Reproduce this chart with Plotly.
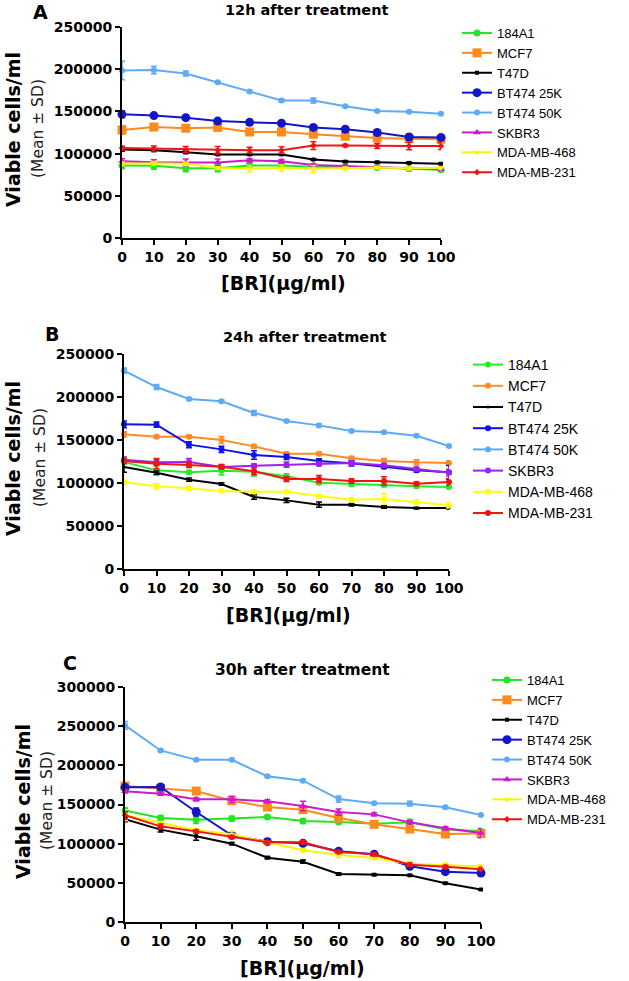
import plotly.graph_objects as go

W, H = 629, 981

conc = [0, 10, 20, 30, 40, 50, 60, 70, 80, 90, 100]
series_names = ["184A1", "MCF7", "T47D", "BT474 25K", "BT474 50K", "SKBR3", "MDA-MB-468", "MDA-MB-231"]
panel_titles = ["12h after treatment", "24h after treatment", "30h after treatment"]
panel_letters = ["A", "B", "C"]

# ---- Panel A: 12h ----
a_184A1 = [86000, 85500, 82500, 82500, 86000, 86000, 84500, 84000, 83500, 82000, 81000]
a_MCF7 = [128000, 131500, 130000, 131000, 125600, 125600, 123000, 120500, 118500, 117500, 117000]
a_T47D = [105000, 104000, 101500, 99000, 99000, 99000, 93000, 90500, 89700, 89000, 88000]
a_BT25 = [146500, 145000, 142600, 138500, 137000, 136000, 131000, 128800, 125000, 119700, 119000]
a_BT50 = [198500, 199000, 195000, 184500, 173500, 163000, 163000, 156000, 150500, 149700, 147300]
a_SKBR3 = [91000, 89700, 89500, 89500, 92000, 91000, 86500, 85300, 84500, 82500, 81500]
a_MB468 = [88000, 88500, 88000, 83000, 82000, 83000, 82000, 82500, 83500, 82500, 83000]
a_MB231 = [106600, 106000, 104800, 104000, 104000, 104000, 109500, 109500, 109000, 109000, 109000]

a_184A1_sd = [4000, 4000, 4000, 4000, 3000, 2500, 2000, 1500, 1500, 1500, 1500]
a_MCF7_sd = [5000, 2500, 2000, 3000, 4000, 4000, 2500, 3000, 2500, 3000, 2500]
a_T47D_sd = [2000, 1500, 1500, 1000, 1000, 1000, 1000, 1000, 1000, 1000, 1000]
a_BT25_sd = [4000, 1500, 1500, 2000, 3000, 2000, 2000, 3000, 2000, 3000, 2000]
a_BT50_sd = [11000, 4500, 3000, 1000, 1000, 2000, 3000, 1000, 1000, 1000, 1000]
a_SKBR3_sd = [3000, 3000, 4000, 4000, 2000, 2000, 1500, 1000, 1000, 1000, 1000]
a_MB468_sd = [2000, 2000, 2000, 1500, 3500, 3500, 4000, 1500, 1500, 1500, 1500]
a_MB231_sd = [2000, 3000, 3500, 4500, 3500, 4000, 4500, 1500, 3000, 4500, 4000]

# ---- Panel B: 24h ----
b_184A1 = [124400, 114700, 112400, 114300, 113200, 107800, 100400, 98800, 97700, 96100, 95300]
b_MCF7 = [156600, 153900, 153900, 150000, 142600, 134100, 134100, 128700, 125600, 124000, 123300]
b_T47D = [118600, 112000, 103900, 98800, 83700, 79800, 74800, 74800, 72100, 70900, 70900]
b_BT25 = [168200, 167800, 144600, 139100, 132600, 130200, 125600, 122900, 119000, 114700, 112400]
b_BT50 = [230600, 211600, 197700, 195000, 181400, 172000, 167000, 160500, 159000, 155000, 143000]
b_SKBR3 = [127100, 124000, 124400, 118600, 120200, 121300, 122100, 123300, 120500, 116300, 112000]
b_MB468 = [100800, 96100, 93800, 90600, 89900, 89900, 84900, 80600, 81400, 77900, 74000]
b_MB231 = [125600, 122500, 120900, 119000, 113600, 104700, 104700, 102300, 102300, 99200, 101200]

b_184A1_sd = [2500, 5000, 2000, 5000, 5000, 3000, 2000, 3000, 2000, 2000, 2000]
b_MCF7_sd = [3000, 1500, 1500, 4000, 2000, 2000, 2000, 2000, 3000, 3000, 2500]
b_T47D_sd = [6000, 2000, 2000, 1500, 2500, 2500, 3000, 1500, 1500, 1000, 1000]
b_BT25_sd = [4000, 3000, 3500, 3500, 5000, 3000, 2500, 3000, 2000, 2000, 8000]
b_BT50_sd = [3000, 3000, 1500, 1500, 3000, 1500, 1500, 1500, 1500, 1500, 1500]
b_SKBR3_sd = [3000, 3000, 4000, 2000, 2000, 3000, 2000, 2000, 2000, 2000, 4000]
b_MB468_sd = [2000, 3000, 2000, 1500, 1500, 1500, 1500, 2000, 6000, 2000, 3000]
b_MB231_sd = [2500, 6000, 3000, 2500, 4000, 3000, 4000, 2500, 5000, 2000, 4000]

# ---- Panel C: 30h ----
c_184A1 = [142500, 132800, 130600, 131900, 134000, 128900, 127700, 125500, 127200, 118300, 116000]
c_MCF7 = [173600, 170600, 167200, 154800, 146800, 143400, 132700, 124700, 118700, 112300, 113000]
c_T47D = [131100, 117900, 109400, 100000, 82100, 77000, 61300, 60400, 59600, 49500, 41500]
c_BT25 = [171900, 172300, 140400, 110600, 102600, 100400, 90200, 86400, 71100, 64300, 62500]
c_BT50 = [251000, 219000, 207000, 207000, 186000, 180400, 157000, 151500, 151000, 146400, 136500]
c_SKBR3 = [166800, 163800, 156600, 156600, 154000, 148100, 140400, 137400, 127200, 119600, 113500]
c_MB468 = [136200, 126400, 117000, 111900, 101300, 91500, 85500, 81700, 74500, 73200, 71000]
c_MB231 = [136200, 122100, 115700, 108500, 101700, 101700, 89400, 86400, 73200, 70400, 67500]

c_184A1_sd = [3000, 3000, 5000, 3000, 2000, 3000, 2000, 2000, 4000, 2000, 2000]
c_MCF7_sd = [3000, 2000, 3000, 3000, 4000, 4000, 2000, 2000, 3000, 3000, 2000]
c_T47D_sd = [3000, 3000, 5000, 1500, 1500, 2000, 1500, 1000, 1000, 1000, 1000]
c_BT25_sd = [2000, 3000, 5000, 2000, 3000, 3000, 2000, 2000, 2000, 2000, 2000]
c_BT50_sd = [5000, 1500, 1500, 1500, 1500, 1500, 4000, 1500, 3000, 1500, 1500]
c_SKBR3_sd = [2000, 2000, 2000, 4000, 2000, 6000, 4000, 2000, 2000, 2000, 6000]
c_MB468_sd = [7000, 2000, 2000, 4000, 2000, 2000, 3000, 2000, 3000, 2000, 2000]
c_MB231_sd = [5000, 3000, 2000, 2000, 2000, 2000, 2000, 2000, 2000, 2000, 2000]

panels_values = [
    [a_184A1, a_MCF7, a_T47D, a_BT25, a_BT50, a_SKBR3, a_MB468, a_MB231],
    [b_184A1, b_MCF7, b_T47D, b_BT25, b_BT50, b_SKBR3, b_MB468, b_MB231],
    [c_184A1, c_MCF7, c_T47D, c_BT25, c_BT50, c_SKBR3, c_MB468, c_MB231],
]
panels_sd = [
    [a_184A1_sd, a_MCF7_sd, a_T47D_sd, a_BT25_sd, a_BT50_sd, a_SKBR3_sd, a_MB468_sd, a_MB231_sd],
    [b_184A1_sd, b_MCF7_sd, b_T47D_sd, b_BT25_sd, b_BT50_sd, b_SKBR3_sd, b_MB468_sd, b_MB231_sd],
    [c_184A1_sd, c_MCF7_sd, c_T47D_sd, c_BT25_sd, c_BT50_sd, c_SKBR3_sd, c_MB468_sd, c_MB231_sd],
]

# styles
colors_ac = ["#22E622", "#FF8A1C", "#000000", "#1515C8", "#5EAAF5", "#CC1ACC", "#F5F50A", "#F01414"]
colors_b = ["#22EE22", "#FF8A26", "#000000", "#1010EE", "#5EAAF5", "#A020F0", "#FFFF12", "#F01414"]
symbols_ac = ["circle", "square", "square", "circle", "circle", "triangle-up", "triangle-down", "diamond"]
sizes_ac = [7, 9, 4, 9, 6, 7, 6, 5]
symbols_b = ["circle"] * 8
sizes_b = [6, 6, 3, 6, 6, 6, 6, 6]

# layout geometry (pixels)
plot_px = [  # x0, x100, ytop, ybottom
    (122, 441, 27, 238),
    (124, 449, 354, 569),
    (125, 481, 687, 922),
]
yranges = [250000, 250000, 300000]
legend_px = [(457, 18), (468, 349), (487, 665)]
legend_sizes = [13, 14, 13]


def fx(px):
    return px / W


def fy(py):
    return 1 - py / H


fig = go.Figure()
layout = dict(
    width=W, height=H, margin=dict(l=0, r=0, t=0, b=0, autoexpand=False),
    paper_bgcolor="white", plot_bgcolor="white", showlegend=True,
)

tickfont = dict(family="DejaVu Sans", size=14, color="black", weight="bold")

for p in range(3):
    sfx = "" if p == 0 else str(p + 1)
    colors = colors_b if p == 1 else colors_ac
    symbols = symbols_b if p == 1 else symbols_ac
    sizes = sizes_b if p == 1 else sizes_ac
    legname = "legend" + sfx
    for i, name in enumerate(series_names):
        fig.add_trace(go.Scatter(
            x=conc, y=panels_values[p][i], name=name, mode="lines+markers",
            xaxis="x" + sfx, yaxis="y" + sfx, legend=legname,
            line=dict(color=colors[i], width=2),
            marker=dict(symbol=symbols[i], size=sizes[i], color=colors[i]),
            error_y=dict(type="data", array=panels_sd[p][i], visible=True,
                         color=colors[i], thickness=1.5, width=3),
            cliponaxis=False,
        ))
    x0, x1, yt, yb = plot_px[p]
    layout["xaxis" + sfx] = dict(
        domain=[fx(x0), fx(x1)], range=[0, 100], anchor="y" + sfx,
        tickmode="array", tickvals=conc, ticktext=[str(v) for v in conc],
        showline=True, linecolor="black", linewidth=2, ticks="outside",
        ticklen=5, tickwidth=2, tickcolor="black", showgrid=False, zeroline=False,
        tickfont=tickfont, automargin=False,
    )
    layout["yaxis" + sfx] = dict(
        domain=[fy(yb), fy(yt)], range=[0, yranges[p]], anchor="x" + sfx,
        dtick=50000, tickformat="d",
        showline=True, linecolor="black", linewidth=2, ticks="outside",
        ticklen=5, tickwidth=2, tickcolor="black", showgrid=False, zeroline=False,
        tickfont=tickfont, automargin=False,
    )
    lx, ly = legend_px[p]
    layout[legname] = dict(
        x=fx(lx), y=fy(ly), xanchor="left", yanchor="top",
        font=dict(family="Liberation Sans", size=legend_sizes[p], color="black"),
        bgcolor="rgba(0,0,0,0)", itemwidth=30, traceorder="normal",
    )

fig.update_layout(**layout)

# annotations
letter_px = [(40, 12), (52, 334), (70, 663)]
title_px = [(307, 10), (305, 337), (302, 670)]
title_sizes = [14.5, 14.5, 15.5]
xtitle_px = [(283, 283), (288, 615), (302, 968)]
ytitle_px = [(13, 130), (13, 459), (23, 802)]
ysub_px = [(38, 129), (40, 458), (47, 801)]


def note(pos, text, font, angle=0):
    fig.add_annotation(x=fx(pos[0]), y=fy(pos[1]), xref="paper", yref="paper",
                       xanchor="center", yanchor="middle", text=text,
                       showarrow=False, textangle=angle, font=font)


for p in range(3):
    note(letter_px[p], "<b>%s</b>" % panel_letters[p],
         dict(family="DejaVu Sans", size=19, color="black"))
    note(title_px[p], "<b>%s</b>" % panel_titles[p],
         dict(family="DejaVu Sans", size=title_sizes[p], color="black"))
    note(xtitle_px[p], "<b>[BR](μg/ml)</b>",
         dict(family="DejaVu Sans", size=19, color="black"))
    note(ytitle_px[p], "<b>Viable cells/ml</b>",
         dict(family="DejaVu Sans", size=19, color="black"), -90)
    note(ysub_px[p], "(Mean ± SD)",
         dict(family="DejaVu Sans", size=15.5, color="#222222"), -90)

fig.write_html("out.html", config={"displayModeBar": False},
               post_script="document.body.style.margin='0';document.body.style.padding='0';")
